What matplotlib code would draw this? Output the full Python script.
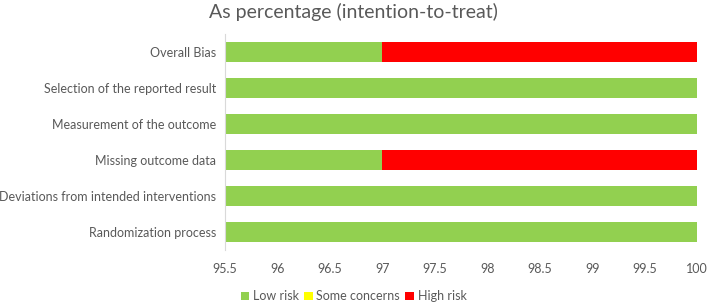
import matplotlib
matplotlib.use("Agg")
import matplotlib.pyplot as plt
import numpy as np

plt.rcParams['font.family'] = ['Lato', 'DejaVu Sans']

# Data (bottom to top)
domains = ["Randomization process", "Deviations from intended interventions",
           "Missing outcome data", "Measurement of the outcome",
           "Selection of the reported result", "Overall Bias"]
low_risk = [100, 100, 97, 100, 100, 97]
some_concerns = [0, 0, 0, 0, 0, 0]
high_risk = [0, 0, 3, 0, 0, 3]
xticks = [95.5, 96, 96.5, 97, 97.5, 98, 98.5, 99, 99.5, 100]

green = '#92D050'
yellow = '#FFFF00'
red = '#FF0000'
txt = '#595959'

fig = plt.figure(figsize=(7.07, 3.06), dpi=100)
ax = fig.add_axes([0.318, 0.183, 0.668, 0.706])

y = np.arange(len(domains))
low = np.array(low_risk)
some = np.array(some_concerns)
high = np.array(high_risk)
h = 0.55
ax.barh(y, low, height=h, color=green, label='Low risk')
ax.barh(y, some, left=low, height=h, color=yellow, label='Some concerns')
ax.barh(y, high, left=low + some, height=h, color=red, label='High risk')

ax.set_xlim(95.5, 100)
ax.set_ylim(-0.5, len(domains) - 0.5)
ax.set_xticks(xticks)
ax.set_xticklabels([f"{t:g}" for t in xticks])
ax.set_yticks(y)
ax.set_yticklabels(domains)
ax.tick_params(axis='both', length=0, colors=txt, labelsize=9)
ax.tick_params(axis='x', pad=9)
ax.tick_params(axis='y', pad=6)

for s in ['top', 'right', 'bottom']:
    ax.spines[s].set_visible(False)
ax.spines['left'].set_color('#D9D9D9')

fig.suptitle("As percentage (intention-to-treat)", fontsize=14, color=txt,
             x=0.5, y=0.99, va='top')

leg = fig.legend(loc='lower center', bbox_to_anchor=(0.5, -0.025), ncol=3,
                 frameon=False, fontsize=9, handlelength=0.7, handleheight=0.7,
                 handletextpad=0.3, columnspacing=0.4)
for t in leg.get_texts():
    t.set_color(txt)

fig.savefig("out.png", dpi=100)
